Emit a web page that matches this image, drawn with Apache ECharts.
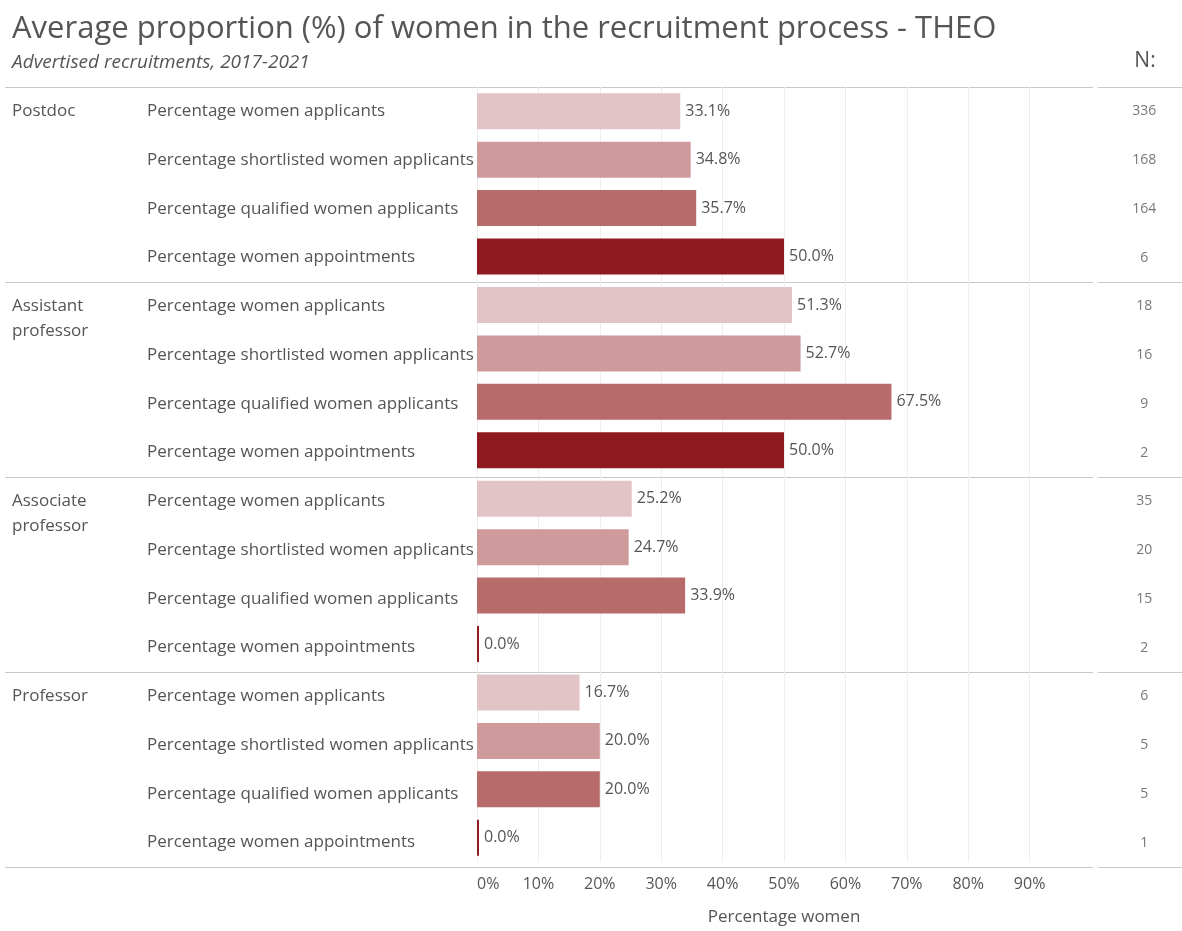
<!DOCTYPE html>
<html>
<head>
<meta charset="utf-8">
<script src="https://cdn.jsdelivr.net/npm/echarts@6/dist/echarts.min.js"></script>
<style>
  html, body { margin: 0; padding: 0; background: #fff; }
  #chart { width: 1182px; height: 931px; }
</style>
</head>
<body>
<div id="chart"></div>
<script>
// data
const groups = ['Postdoc', 'Assistant\nprofessor', 'Associate\nprofessor', 'Professor']
const measures = [
  'Percentage women applicants',
  'Percentage shortlisted women applicants',
  'Percentage qualified women applicants',
  'Percentage women appointments'
]
const postdoc = [33.1, 34.8, 35.7, 50.0]
const assistant = [51.3, 52.7, 67.5, 50.0]
const associate = [25.2, 24.7, 33.9, 0.0]
const professor = [16.7, 20.0, 20.0, 0.0]
const nPostdoc = [336, 168, 164, 6]
const nAssistant = [18, 16, 9, 2]
const nAssociate = [35, 20, 15, 2]
const nProfessor = [6, 5, 5, 1]
const xTicks = ['0%', '10%', '20%', '30%', '40%', '50%', '60%', '70%', '80%', '90%']

const measureColors = ['#e2c4c6', '#cf9a9b', '#b86b6b', '#8e1a1f']
const font = 'Open Sans'
const textCol = '#555'

const values = [postdoc, assistant, associate, professor]
const counts = [nPostdoc, nAssistant, nAssociate, nProfessor]

// 16 rows
const rowLabels = []
const barData = []
const nData = []
values.forEach((vals, g) => {
  vals.forEach((v, m) => {
    rowLabels.push(measures[m])
    barData.push({ value: v, itemStyle: { color: measureColors[m] } })
    nData.push([0, rowLabels.length - 1, counts[g][m]])
  })
})

// half-row axis for the group names (33 points, row centre = odd index)
const halfRows = []
for (let i = 0; i <= 32; i++) halfRows.push('')
groups.forEach((g, i) => {
  g.split('\n').forEach((l, j) => { halfRows[8 * i + 1 + j] = l })
})

const chart = echarts.init(document.getElementById('chart'))

const option = {
  animation: false,
  textStyle: { fontFamily: font },
  title: {
    text: 'Average proportion (%) of women in the recruitment process - THEO',
    subtext: 'Advertised recruitments, 2017-2021',
    left: 7,
    top: 9,
    itemGap: 8,
    textStyle: { fontFamily: font, fontSize: 31, fontWeight: 'normal', color: textCol },
    subtextStyle: { fontFamily: font, fontSize: 19, fontStyle: 'italic', color: textCol }
  },
  grid: [
    // full-width frame: row labels + separators
    { left: 5, right: 89, top: 87, bottom: 64 },
    // bars
    { left: 477, right: 91, top: 87, bottom: 64 },
    // N column
    { left: 1098, right: 0, top: 87, bottom: 64 }
  ],
  xAxis: [
    { gridIndex: 0, type: 'value', show: false },
    {
      gridIndex: 1,
      type: 'value',
      min: 0,
      max: 100,
      interval: 10,
      axisLine: { show: false },
      axisTick: { show: false },
      splitLine: { showMaxLine: false, lineStyle: { color: '#eeeeee' } },
      axisLabel: {
        formatter: (v) => xTicks[Math.round(v / 10)] || '',
        color: textCol,
        fontSize: 16,
        margin: 14,
        alignMinLabel: 'left',
        showMaxLabel: false
      },
      name: 'Percentage women',
      nameLocation: 'middle',
      nameGap: 47,
      nameTextStyle: { color: textCol, fontSize: 17 }
    },
    {
      gridIndex: 2,
      type: 'value',
      min: -1.1,
      max: 0.9,
      position: 'top',
      axisLine: { show: false },
      axisTick: { show: false },
      axisLabel: { show: false },
      splitLine: { show: false },
      name: 'N:',
      nameLocation: 'middle',
      nameGap: 15,
      nameTextStyle: { color: textCol, fontSize: 21, padding: [0, 0, 0, 10] }
    }
  ],
  yAxis: [
    {
      gridIndex: 0,
      type: 'category',
      position: 'left',
      inverse: true,
      data: rowLabels,
      axisLine: { show: false },
      axisTick: { show: false },
      axisLabel: {
        inside: true,
        margin: 142,
        color: textCol,
        fontSize: 17
      },
      splitLine: {
        show: true,
        interval: (i) => i % 4 === 0,
        lineStyle: { color: '#c8c8c8', width: 1 }
      }
    },
    {
      gridIndex: 0,
      type: 'category',
      position: 'left',
      offset: 0,
      inverse: true,
      boundaryGap: false,
      data: halfRows,
      axisLine: { show: false },
      axisTick: { show: false },
      splitLine: { show: false },
      axisLabel: {
        inside: true,
        margin: 7,
        interval: 0,
        color: textCol,
        fontSize: 17
      }
    },
    {
      gridIndex: 1,
      type: 'category',
      inverse: true,
      data: rowLabels,
      show: false
    },
    {
      gridIndex: 2,
      type: 'category',
      inverse: true,
      data: rowLabels,
      axisLine: { show: false },
      axisTick: { show: false },
      axisLabel: { show: false },
      splitLine: {
        show: true,
        interval: (i) => i % 4 === 0,
        lineStyle: { color: '#c8c8c8', width: 1 }
      }
    }
  ],
  series: [
    {
      type: 'bar',
      xAxisIndex: 1,
      yAxisIndex: 2,
      data: barData,
      barWidth: 36,
      barMinHeight: 2,
      label: {
        show: true,
        position: 'right',
        distance: 5,
        color: textCol,
        fontSize: 16,
        formatter: (p) => p.value.toFixed(1) + '%'
      }
    },
    {
      type: 'scatter',
      xAxisIndex: 2,
      yAxisIndex: 3,
      symbolSize: 0,
      data: nData,
      label: {
        show: true,
        position: 'inside',
        color: textCol,
        fontSize: 14,
        formatter: (p) => String(p.value[2])
      }
    }
  ]
}

chart.setOption(option)
</script>
</body>
</html>
